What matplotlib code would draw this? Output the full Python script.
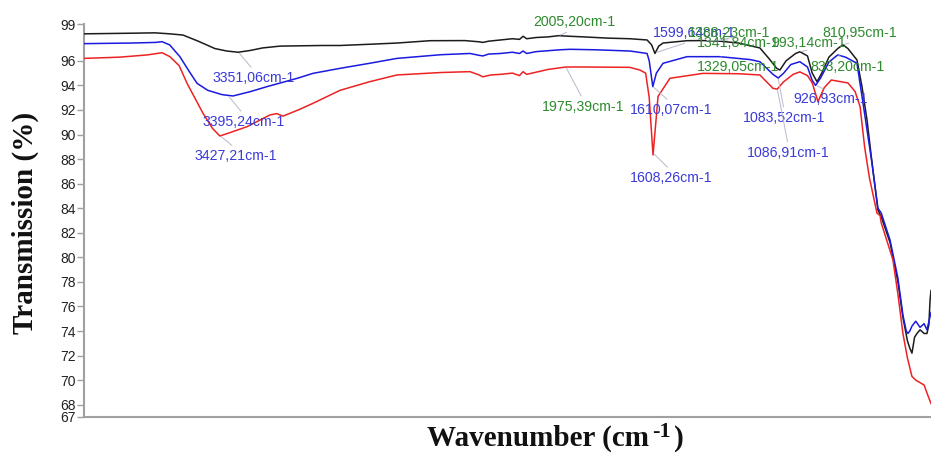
import numpy as np
import matplotlib
matplotlib.use("Agg")
import matplotlib.pyplot as plt

# ---- data (wavenumber cm-1, transmission %) ----
black_w = [4000, 3800, 3702, 3640, 3584, 3520, 3450, 3400, 3353, 3300, 3250, 3176, 3000, 2924, 2800,
           2685, 2546, 2400, 2340, 2324, 2300, 2250, 2200, 2170, 2155, 2140, 2100, 2050, 2005, 1958,
           1900, 1800, 1706, 1634, 1615, 1601, 1585, 1567, 1466, 1400, 1328, 1250, 1160, 1118, 1090,
           1076, 1050, 1010, 992, 960, 940, 920, 900, 870, 833, 811, 790, 752, 731, 710, 690, 664,
           650, 613, 580, 559, 540, 530, 521, 510, 500, 487, 470, 458, 450, 445, 441]
black_t = [98.2, 98.25, 98.28, 98.2, 98.1, 97.6, 97.0, 96.8, 96.7, 96.85, 97.05, 97.2, 97.25, 97.25, 97.35,
           97.45, 97.64, 97.65, 97.55, 97.5, 97.6, 97.7, 97.8, 97.75, 98.0, 97.8, 97.9, 97.95, 98.05, 98.0,
           97.95, 97.85, 97.8, 97.7, 97.3, 96.6, 97.2, 97.45, 97.64, 97.65, 97.6, 97.45, 97.05, 96.1, 95.4,
           95.25, 96.0, 96.6, 96.74, 96.4, 95.0, 94.3, 95.0, 96.3, 97.0, 97.3, 97.0, 96.07, 93.9, 91.2, 87.9, 83.85,
           83.3, 81.2, 78.0, 75.1, 73.2, 72.6, 72.2, 73.5, 73.8, 74.1, 73.8, 73.8, 74.5, 76.5, 77.3]

blue_w = [4000, 3800, 3700, 3672, 3640, 3597, 3560, 3525, 3480, 3420, 3374, 3300, 3231, 3100, 3038,
          2924, 2800, 2685, 2500, 2378, 2340, 2324, 2300, 2250, 2200, 2170, 2155, 2140, 2100, 2000,
          1958, 1850, 1706, 1634, 1625, 1610, 1595, 1567, 1466, 1328, 1200, 1160, 1105, 1083, 1060,
          1030, 992, 960, 940, 926, 905, 870, 833, 800, 752, 727, 710, 690, 664, 650, 613, 580, 559,
          545, 538, 530, 521, 505, 487, 470, 458, 441]
blue_t = [97.4, 97.45, 97.5, 97.56, 97.3, 96.34, 95.2, 94.17, 93.6, 93.25, 93.14, 93.5, 93.9, 94.6, 94.98,
          95.39, 95.8, 96.2, 96.5, 96.6, 96.45, 96.4, 96.55, 96.6, 96.7, 96.6, 96.8, 96.6, 96.75, 96.9,
          96.94, 96.9, 96.8, 96.6, 96.0, 93.9, 95.0, 95.8, 96.34, 96.34, 96.1, 95.93, 94.9, 94.6, 95.0,
          95.7, 95.93, 95.5, 94.4, 94.0, 94.6, 95.9, 96.48, 96.3, 95.8, 92.6, 90.4, 87.8, 84.0, 83.6, 81.4, 78.3, 75.3,
          74.0, 73.8, 74.0, 74.4, 74.8, 74.3, 74.6, 74.1, 75.5]

red_w = [4000, 3850, 3735, 3672, 3639, 3600, 3567, 3500, 3460, 3429, 3380, 3315, 3218, 3190, 3164,
         3100, 3038, 2924, 2800, 2685, 2500, 2378, 2340, 2324, 2290, 2250, 2200, 2170, 2155, 2140,
         2050, 1975, 1900, 1706, 1664, 1640, 1625, 1609, 1595, 1588, 1538, 1399, 1250, 1160, 1105,
         1087, 1060, 1020, 992, 960, 940, 916, 890, 860, 820, 790, 760, 739, 720, 700, 668, 655,
         650, 601, 580, 559, 540, 521, 505, 487, 470, 455, 441]
red_t = [96.2, 96.3, 96.48, 96.66, 96.34, 95.6, 94.17, 91.73, 90.5, 89.88, 90.2, 90.64, 91.6, 91.7, 91.5,
         92.0, 92.54, 93.6, 94.3, 94.85, 95.05, 95.12, 94.85, 94.7, 94.85, 94.9, 95.0, 94.8, 95.12, 94.9,
         95.3, 95.5, 95.5, 95.47, 95.25, 95.0, 93.0, 88.33, 91.5, 93.1, 94.58, 94.98, 94.95, 94.85, 93.76,
         93.7, 94.3, 94.9, 95.1, 94.8, 94.2, 92.67, 93.8, 94.44, 94.3, 94.2, 93.5, 92.27, 89.0, 86.5, 83.6, 83.4,
         82.8, 79.8, 77.0, 73.8, 71.8, 70.3, 70.0, 69.8, 69.6, 68.8, 68.1]

y_ticks = [67, 68, 70, 72, 74, 76, 78, 80, 82, 84, 86, 88, 90, 92, 94, 96, 99]

# label text, series, target wavenumber, text colour key
ann_labels = ["3351,06cm-1", "3395,24cm-1", "3427,21cm-1", "2005,20cm-1", "1975,39cm-1",
              "1599,64cm-1", "1388,23cm-1", "1341,84cm-1", "993,14cm-1", "810,95cm-1",
              "833,20cm-1", "1329,05cm-1", "1610,07cm-1", "1083,52cm-1", "926,93cm-1",
              "1608,26cm-1", "1086,91cm-1"]
ann_series = ["black", "blue", "red", "black", "red",
              "black", "black", "black", "black", "black",
              "blue", "blue", "blue", "blue", "blue",
              "red", "red"]
ann_wave = [3351.06, 3395.24, 3427.21, 2005.20, 1975.39,
            1599.64, 1388.23, 1341.84, 993.14, 810.95,
            833.20, 1329.05, 1610.07, 1083.52, 926.93,
            1608.26, 1086.91]
ann_color = ["b", "b", "b", "g", "g",
             "b", "g", "g", "g", "g",
             "g", "g", "b", "b", "b",
             "b", "b"]

# ---- layout ----
W, H = 931, 453
fig = plt.figure(figsize=(W / 100, H / 100), dpi=100)
ax = fig.add_axes([84 / W, 1 - 417 / H, 1 - 84 / W, (417 - 24) / H])

series = {
    "black": (black_w, black_t, "#1c1c1c"),
    "blue": (blue_w, blue_t, "#1a1ae0"),
    "red": (red_w, red_t, "#ee2222"),
}
for key in ["black", "blue", "red"]:
    w, t, c = series[key]
    ax.plot(w, t, color=c, lw=1.1, zorder=3)

ax.set_xlim(4000, 441)
ax.set_ylim(67, 99)
ax.set_yticks(y_ticks)
ax.set_yticklabels([str(v) for v in y_ticks], fontsize=10, family="Liberation Sans", color="#222222")
ax.set_xticks([])
for s in ["top", "right"]:
    ax.spines[s].set_visible(False)
for s in ["left", "bottom"]:
    ax.spines[s].set_color("#a0a0a0")
    ax.spines[s].set_linewidth(1.5)
ax.tick_params(axis="y", length=5, width=1, color="#a0a0a0", pad=1)

# text positions in figure pixels (left, centre-y from top)
ann_pos = [(213, 78), (203, 122), (195, 156), (533, 22), (542, 107),
           (653, 33), (688, 33), (697, 43), (771, 43), (822, 33),
           (810, 67), (697, 67), (630, 110), (743, 118), (793, 99),
           (630, 178), (747, 153)]
col_map = {"b": "#3a3ad8", "g": "#2e8a2e"}
for lab, ser, wv, ck, (px, py) in zip(ann_labels, ann_series, ann_wave, ann_color, ann_pos):
    w, t, _ = series[ser]
    tv = np.interp(wv, w[::-1], t[::-1])
    tgt_py = H - ax.transData.transform((wv, tv))[1]
    rel = (0.5, 1.0) if py > tgt_py else (0.5, 0.0)
    ax.annotate(lab, xy=(wv, tv), xycoords="data",
                xytext=(px, H - py), textcoords="figure pixels",
                ha="left", va="center", fontsize=10.2, family="Liberation Sans",
                color=col_map[ck], zorder=4,
                arrowprops=dict(arrowstyle="-", color="#b8b8cc", lw=0.7,
                                shrinkA=1, shrinkB=1, relpos=rel))

fig.text(25 / W, 1 - 223 / H, "Transmission (%)", rotation=90, ha="center", va="center",
         fontsize=21, fontweight="bold", family="Liberation Serif", color="#111111")

# x label built from pieces so the superscript keeps a plain hyphen
renderer = fig.canvas.get_renderer()
base_y = (H - 446) / H
lab_kw = dict(fontweight="bold", family="Liberation Serif", color="#111111", va="baseline", ha="left")
t1 = fig.text(427 / W, base_y, "Wavenumber (cm", fontsize=21, **lab_kw)
x1 = t1.get_window_extent(renderer).x1
t2 = fig.text((x1 + 3) / W, base_y + 9 / H, "-1", fontsize=16, **lab_kw)
x2 = t2.get_window_extent(renderer).x1
fig.text((x2 + 3) / W, base_y, ")", fontsize=21, **lab_kw)

fig.savefig("out.png", dpi=100)
